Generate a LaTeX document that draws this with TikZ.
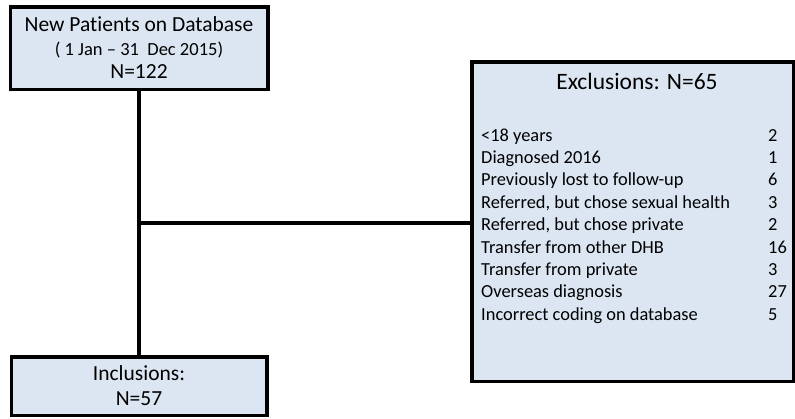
\documentclass[tikz,border=0pt]{standalone}
\usepackage{fontspec}
\setmainfont[Ligatures=NoCommon]{Carlito}
\usepackage{xcolor}
\usepackage{tikz}
\definecolor{boxfill}{HTML}{DCE6F2}

\begin{document}
\begin{tikzpicture}[x=1pt, y=-1pt]
	\useasboundingbox (0,0) rectangle (795,418);

	\begin{scope}[
		box/.style={draw=black, fill=boxfill, line width=3.5pt, inner sep=0pt, align=center},
		item/.style={anchor=base west, inner sep=0pt, font=\fontsize{18.4}{22}\selectfont}]
		\node[box, minimum width=257.5pt, minimum height=82.5pt, font=\fontsize{21.5}{23.5}\selectfont] (new) at (139,48) {New Patients on Database\\{\fontsize{18.5}{23.5}\selectfont ( 1 Jan -- 31~~Dec 2015)}\\N=122};
		\node[box, minimum width=255.5pt, minimum height=58.5pt, font=\fontsize{21.5}{25}\selectfont] (inc) at (139,386) {Inclusions:\\N=57};
		\node[box, minimum width=321.5pt, minimum height=319.5pt] (exc) at (632.5,221.5) {};

		\node[anchor=base, inner sep=0pt, font=\fontsize{23.5}{28}\selectfont] (exctitle) at (637,89) {Exclusions: N=65};
		\foreach \reason/\nval [count=\i] in {{<18 years}/2, {Diagnosed 2016}/1, {Previously lost to follow-up}/6, {Referred, but chose sexual health}/3, {Referred, but chose private}/2, {Transfer from other DHB}/16, {Transfer from private}/3, {Overseas diagnosis}/27, {Incorrect coding on database}/5}{
			\node[item] (reason\i) at (481,{141+22.4*(\i-1)}) {\reason};
			\node[item] (nval\i) at (768,{141+22.4*(\i-1)}) {\nval};
		}
	\end{scope}

	\coordinate (split) at (139,223);
	\draw[-, line width=4pt] (new) -- (inc);
	\draw[-, line width=4pt] (split) -- (split -| exc.west);
\end{tikzpicture}
\end{document}
